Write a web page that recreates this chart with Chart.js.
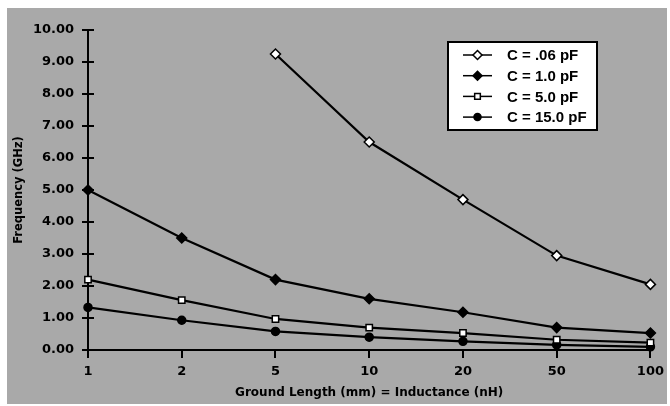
<!DOCTYPE html>
<html>
<head>
<meta charset="utf-8">
<script src="https://cdn.jsdelivr.net/npm/chart.js@4.4.1/dist/chart.umd.min.js"></script>
<style>
  html, body { margin: 0; padding: 0; background: #fff; }
  #wrap { width: 670px; height: 406px; }
</style>
</head>
<body>
<div id="wrap"><canvas id="chart" width="670" height="406"></canvas></div>
<script>
// ground length categories (mm / nH)
const lengths = ['1', '2', '5', '10', '20', '50', '100'];
const yTicks = [0, 1, 2, 3, 4, 5, 6, 7, 8, 9, 10];

// frequency (GHz) per capacitance
const c006 = [null, null, 9.25, 6.5, 4.7, 2.95, 2.05];
const c1 = [5.0, 3.5, 2.2, 1.6, 1.18, 0.7, 0.53];
const c5 = [2.2, 1.56, 0.97, 0.7, 0.53, 0.32, 0.23];
const c15 = [1.33, 0.93, 0.58, 0.4, 0.27, 0.16, 0.1];

const seriesNames = ['C = .06 pF', 'C = 1.0 pF', 'C = 5.0 pF', 'C = 15.0 pF'];

const ink = '#000';
const bg = '#a9a9a9';
const heavy = 'DejaVu Sans, sans-serif';
const plain = 'Liberation Sans, Arial, sans-serif';

function series(label, data, style, fill, r) {
  return {
    label, data,
    borderColor: ink, borderWidth: 2.2,
    pointStyle: style, pointRadius: r, pointHoverRadius: r,
    pointBackgroundColor: fill, pointBorderColor: ink, pointBorderWidth: 1.5,
    tension: 0, clip: false, spanGaps: false
  };
}

// gray page + crossing y ticks + boxed legend
const paper = {
  id: 'paper',
  beforeDraw(chart) {
    const c = chart.ctx;
    c.save();
    c.fillStyle = bg;
    c.fillRect(7, 8, 660, 396);
    c.restore();
  },
  afterDraw(chart) {
    const c = chart.ctx;
    const y = chart.scales.y;
    const ax = chart.chartArea.left;
    c.save();
    c.strokeStyle = ink;
    c.lineWidth = 2;
    yTicks.forEach(v => {
      const py = y.getPixelForValue(v);
      c.beginPath(); c.moveTo(ax - 6, py); c.lineTo(ax + 6, py); c.stroke();
    });

    // legend
    const lx = 448, ly = 42, lw = 149, lh = 88;
    c.fillStyle = '#fff';
    c.fillRect(lx, ly, lw, lh);
    c.lineWidth = 2;
    c.strokeRect(lx, ly, lw, lh);
    c.font = 'bold 15px ' + plain;
    c.textBaseline = 'middle';
    chart.data.datasets.forEach((ds, i) => {
      const ry = ly + 13 + i * 20.7;
      c.strokeStyle = ink; c.lineWidth = 1.5;
      c.beginPath(); c.moveTo(463, ry); c.lineTo(492, ry); c.stroke();
      c.fillStyle = ds.pointBackgroundColor;
      c.strokeStyle = ink;
      Chart.helpers.drawPoint(c, { pointStyle: ds.pointStyle, radius: ds.pointRadius - 0.5, borderWidth: 1.2, rotation: 0 }, 477.5, ry);
      c.fillStyle = ink;
      c.fillText(ds.label, 507, ry + 1);
    });
    c.restore();
  }
};

new Chart(document.getElementById('chart'), {
  type: 'line',
  data: {
    labels: lengths,
    datasets: [
      series(seriesNames[0], c006, 'rectRot', '#fff', 5),
      series(seriesNames[1], c1, 'rectRot', ink, 5),
      series(seriesNames[2], c5, 'rect', '#fff', 4.5),
      series(seriesNames[3], c15, 'circle', ink, 4)
    ]
  },
  options: {
    responsive: false,
    animation: false,
    layout: { padding: { left: 7, right: 17, top: 30, bottom: 2 } },
    plugins: { legend: { display: false }, tooltip: { enabled: false } },
    scales: {
      x: {
        type: 'category',
        offset: false,
        afterFit: s => { s.height = 54; },
        grid: { drawOnChartArea: false, drawTicks: true, tickLength: 8, color: ink, lineWidth: 2 },
        border: { display: true, color: ink, width: 2 },
        ticks: { color: ink, padding: 6, font: { family: heavy, size: 13, weight: 'bold' }, maxRotation: 0 },
        title: {
          display: true, text: 'Ground Length (mm) = Inductance (nH)', color: ink,
          font: { family: heavy, size: 12, weight: 'bold' }, padding: { top: 0, bottom: 4 }
        }
      },
      y: {
        min: 0, max: 10,
        afterFit: s => { s.width = 81; },
        grid: { display: false },
        border: { display: true, color: ink, width: 2 },
        ticks: {
          stepSize: 1, color: ink, padding: 6,
          font: { family: heavy, size: 13, weight: 'bold' },
          callback: v => v.toFixed(2)
        },
        title: {
          display: true, text: 'Frequency (GHz)', color: ink,
          font: { family: heavy, size: 11.5, weight: 'bold' }, padding: { top: 5, bottom: 0 }
        }
      }
    }
  },
  plugins: [paper]
});
</script>
</body>
</html>
